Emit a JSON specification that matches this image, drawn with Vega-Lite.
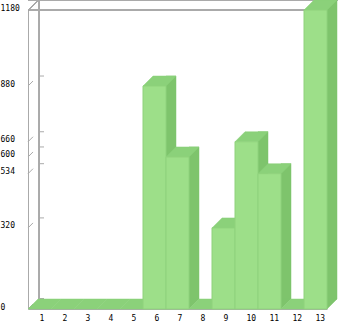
{
  "$schema": "https://vega.github.io/schema/vega-lite/v6.json",
  "autosize": {"type": "none"},
  "padding": {"left": 28, "top": 10, "right": 13, "bottom": 12},
  "width": 299,
  "height": 299,
  "background": "white",
  "config": {"view": {"stroke": null}},
  "data": {"values": [
    {"cat": 1, "value": 0},
    {"cat": 2, "value": 0},
    {"cat": 3, "value": 0},
    {"cat": 4, "value": 0},
    {"cat": 5, "value": 0},
    {"cat": 6, "value": 880},
    {"cat": 7, "value": 600},
    {"cat": 8, "value": 0},
    {"cat": 9, "value": 320},
    {"cat": 10, "value": 660},
    {"cat": 11, "value": 534},
    {"cat": 12, "value": 0},
    {"cat": 13, "value": 1180}
  ]},
  "layer": [
    {
      "mark": {"type": "rule", "color": "#aaaaaa", "strokeWidth": 1, "xOffset": 11, "x2Offset": 14, "yOffset": -10},
      "encoding": {"y": {"datum": 1180, "type": "quantitative", "scale": {"domain": [0, 1180], "nice": false, "zero": true}}}
    },
    {
      "mark": {"type": "rule", "color": "#aaaaaa", "strokeWidth": 1},
      "encoding": {"y": {"datum": 1180, "type": "quantitative"}}
    },
    {
      "mark": {"type": "rule", "color": "#aaaaaa", "strokeWidth": 1, "xOffset": 11, "yOffset": -10, "y2Offset": -10},
      "encoding": {
        "x": {"value": 0},
        "y": {"datum": 1180, "type": "quantitative"},
        "y2": {"datum": 0}
      }
    },
    {
      "mark": {"type": "point", "shape": "M0,0 L11,-10", "size": 4, "filled": false, "stroke": "#aaaaaa", "strokeWidth": 1, "opacity": 1},
      "encoding": {
        "x": {"value": 0},
        "y": {"datum": 1180, "type": "quantitative"}
      }
    },
    {
      "mark": {"type": "point", "shape": "M0,0 L5,-5 M11,-10 L16,-10", "size": 4, "filled": false, "stroke": "#aaaaaa", "strokeWidth": 1, "opacity": 1},
      "encoding": {
        "x": {"value": 0},
        "y": {"field": "value", "type": "quantitative"}
      }
    },
    {
      "transform": [{"filter": "datum.value > 0"}],
      "mark": {"type": "bar", "width": 10, "xOffset": 16.5, "yOffset": -10, "y2Offset": -10, "color": "#7ec46c", "stroke": "#7ec46c", "strokeWidth": 0.5},
      "encoding": {
        "x": {"field": "cat", "type": "ordinal", "scale": {"paddingInner": 0, "paddingOuter": 0}},
        "y": {"field": "value", "type": "quantitative"},
        "y2": {"datum": 0}
      }
    },
    {
      "transform": [{"filter": "datum.value > 0"}],
      "mark": {"type": "point", "shape": "M11.5,0 L11.5,-10 L21.5,-10 Z", "size": 4, "filled": true, "color": "#7ec46c", "stroke": "#7ec46c", "strokeWidth": 0.5, "opacity": 1},
      "encoding": {
        "x": {"field": "cat", "type": "ordinal"},
        "y": {"datum": 0, "type": "quantitative"}
      }
    },
    {
      "mark": {"type": "point", "shape": "M-11.5,0 L11.5,0 L21.5,-10 L-1.5,-10 Z", "size": 4, "filled": true, "color": "#8bd17a", "stroke": "#8bd17a", "strokeWidth": 0.5, "opacity": 1},
      "encoding": {
        "x": {"field": "cat", "type": "ordinal"},
        "y": {"field": "value", "type": "quantitative"}
      }
    },
    {
      "transform": [{"filter": "datum.value > 0"}],
      "mark": {"type": "bar", "color": "#9ddf89", "stroke": "#8fd27c", "strokeWidth": 1},
      "encoding": {
        "x": {
          "field": "cat", "type": "ordinal",
          "axis": {
            "title": null, "labelAngle": 0, "labelAlign": "left", "labelBaseline": "top",
            "labelFont": "DejaVu Sans Mono", "labelFontSize": 8, "labelColor": "#000000",
            "labelPadding": 5, "ticks": false, "tickSize": 0,
            "domain": true, "domainColor": "#aaaaaa", "domainWidth": 1
          }
        },
        "y": {
          "field": "value", "type": "quantitative",
          "axis": {
            "title": null, "values": [0, 320, 534, 600, 660, 880, 1180], "format": "d",
            "labelAlign": "left", "labelBaseline": "middle", "labelOffset": -2,
            "labelFont": "DejaVu Sans Mono", "labelFontSize": 8, "labelColor": "#000000",
            "labelPadding": 28, "ticks": false, "tickSize": 0, "grid": false,
            "labelOverlap": false, "labelFlush": false,
            "domain": true, "domainColor": "#aaaaaa", "domainWidth": 1
          }
        }
      }
    }
  ]
}
